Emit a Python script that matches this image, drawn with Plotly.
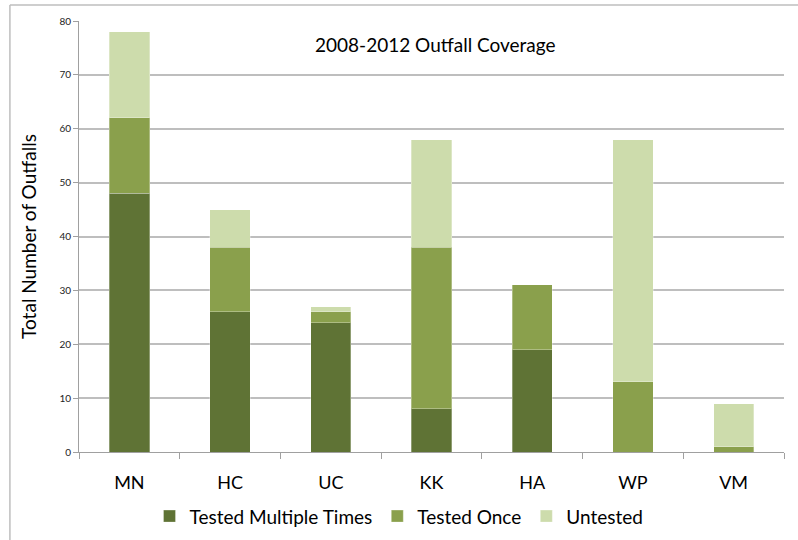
import plotly.graph_objects as go

categories = ["MN", "HC", "UC", "KK", "HA", "WP", "VM"]
tested_multiple = [48, 26, 24, 8, 19, 0, 0]
tested_once = [14, 12, 2, 30, 12, 13, 1]
untested = [16, 7, 1, 20, 0, 45, 8]

series = [
    ("Tested Multiple Times", tested_multiple, "#5F7335"),
    ("Tested Once", tested_once, "#8AA04C"),
    ("Untested", untested, "#CDDCAC"),
]

FONT = "Lato, Open Sans, sans-serif"

fig = go.Figure()
for name, vals, color in series:
    fig.add_trace(go.Bar(
        name=name, x=categories, y=vals, width=0.4,
        marker=dict(color=color, line=dict(color="rgba(255,255,255,0.3)", width=1)),
    ))

fig.update_layout(
    barmode="stack",
    width=798, height=540,
    margin=dict(l=79, r=14, t=21, b=88, autoexpand=False),
    paper_bgcolor="white", plot_bgcolor="white",
    font=dict(family=FONT, color="#000000"),
    showlegend=True,
    legend=dict(orientation="h", x=0.5, xanchor="center", xref="container",
                y=0.044, yanchor="middle", yref="container",
                font=dict(size=19, family=FONT), traceorder="normal"),
    xaxis=dict(showline=True, linecolor="#A0A0A0", linewidth=1,
               ticks="outside", tickson="boundaries", ticklen=6, tickcolor="#A0A0A0",
               ticklabelstandoff=14,
               tickfont=dict(size=18, family=FONT), showgrid=False),
    yaxis=dict(range=[0, 80], dtick=10, showline=True, linecolor="#A0A0A0", linewidth=1,
               ticks="outside", ticklen=5, tickcolor="#A0A0A0",
               showgrid=True, gridcolor="#BEBEBE", gridwidth=1.5,
               tickfont=dict(size=10, family=FONT, color="#222222"),
               title=dict(text="Total Number of Outfalls", font=dict(size=19, family=FONT), standoff=17),
               zeroline=False),
    annotations=[dict(text="2008-2012 Outfall Coverage", xref="paper", yref="paper",
                      x=0.505, y=0.945, xanchor="center", yanchor="middle", showarrow=False,
                      font=dict(size=19, family=FONT))],
    shapes=[
        dict(type="line", xref="paper", yref="paper", x0=-0.098, x1=1.03, y0=1.037, y1=1.037,
             line=dict(color="#BEBEBE", width=1.5)),
        dict(type="line", xref="paper", yref="paper", x0=-0.098, x1=-0.098, y0=1.037, y1=-0.22,
             line=dict(color="#BEBEBE", width=1.5)),
    ],
)

fig.write_html("out.html")
